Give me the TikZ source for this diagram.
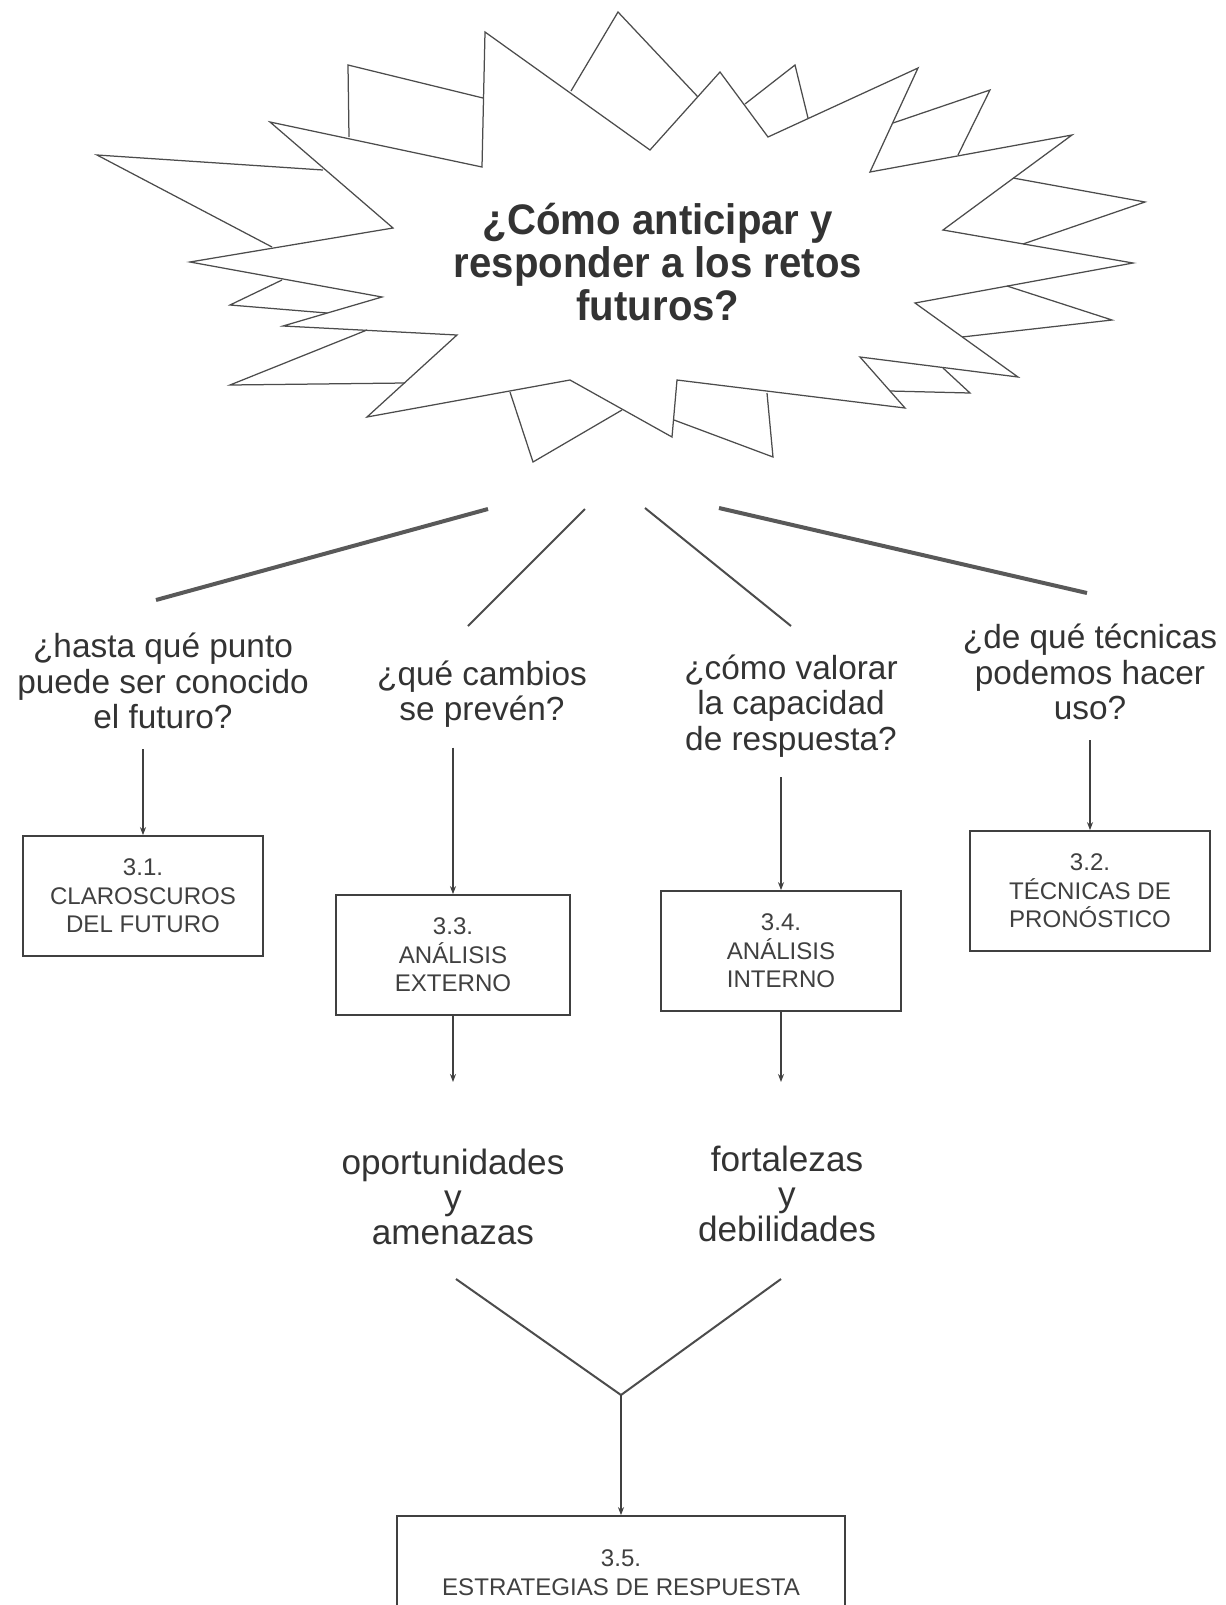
\documentclass[tikz,border=0pt]{standalone}
\usepackage{fontspec}
\setmainfont{Liberation Sans}
\newfontfamily\titlefont[FakeStretch=0.94]{Liberation Sans}
\usetikzlibrary{arrows.meta}

\tikzset{
  burst/.style={draw=black!70, line width=0.25mm, line join=miter},
  bar/.style={draw=black!70, line width=0.4mm},
  heavybar/.style={draw=black!65, line width=0.8mm},
  arr/.style={draw=black!75, line width=0.3mm, -{Stealth[length=1.6mm,width=1.2mm]}},
  qtext/.style={align=center, text=black!80, inner sep=0pt, outer sep=4mm, font=\fontsize{19}{20.3}\selectfont},
  outtext/.style={align=center, text=black!80, inner sep=0pt, font=\fontsize{20}{20}\selectfont},
  boxed/.style={draw=black!75, line width=0.35mm, align=center, text=black!75,
    minimum width=48mm, minimum height=24mm, font=\fontsize{13.7}{16.3}\selectfont},
}

\begin{document}
\begin{tikzpicture}[x=0.2mm, y=-0.2mm]
  \clip (0,0) rectangle (1225,1605);

  % the burst round the title
  \draw[burst] (270,122) -- (393,228) -- (190,262) -- (382,297) -- (283,326)
    -- (457,335) -- (367,417) -- (570,380) -- (672,437) -- (677,380)
    -- (905,408) -- (860,357) -- (1018,377) -- (915,303) -- (1133,263)
    -- (943,230) -- (1072,135) -- (870,172) -- (918,68) -- (768,137)
    -- (720,72) -- (650,150) -- (485,32) -- (482,167) -- cycle;
  % spikes lying over it
  \draw[burst] (349,137) -- (348,65) -- (483,98);
  \draw[burst] (323,170) -- (97,155) -- (272,247);
  \draw[burst] (282,280) -- (230,305) -- (327,313);
  \draw[burst] (367,330) -- (230,385) -- (405,383);
  \draw[burst] (510,392) -- (533,462) -- (622,410);
  \draw[burst] (674,420) -- (773,457) -- (767,393);
  \draw[burst] (571,91) -- (618,12) -- (698,97);
  \draw[burst] (745,104) -- (795,65) -- (808,118);
  \draw[burst] (893,123) -- (990,90) -- (958,155);
  \draw[burst] (1013,178) -- (1145,202) -- (1023,244);
  \draw[burst] (1007,286) -- (1112,320) -- (962,337);
  \draw[burst] (943,368) -- (970,393) -- (890,391);

  \node[align=center, text=black!80, font=\titlefont\fontsize{24.3}{24.5}\selectfont\bfseries] (title) at (658,262)
    {¿Cómo anticipar y\\responder a los retos\\futuros?};

  % questions
  \node[qtext] (q1) at (163,681) {¿hasta qué punto\\puede ser conocido\\el futuro?};
  \node[qtext] (q2) at (482,694) {¿qué cambios\\se prevén?};
  \node[qtext] (q3) at (791,706) {¿cómo valorar\\la capacidad\\de respuesta?};
  \node[qtext] (q4) at (1090,672) {¿de qué técnicas\\podemos hacer\\uso?};

  \coordinate (l1a) at (488,509);
  \coordinate (l1b) at (156,600);
  \coordinate (l2a) at (585,509);
  \coordinate (l2b) at (468,626);
  \coordinate (l3a) at (645,508);
  \coordinate (l3b) at (791,626);
  \coordinate (l4a) at (719,508);
  \coordinate (l4b) at (1087,593);
  \draw[heavybar] (l1a) -- (l1b);
  \draw[bar] (l2a) -- (l2b);
  \draw[bar] (l3a) -- (l3b);
  \draw[heavybar] (l4a) -- (l4b);

  % chapters
  \node[boxed] (b31) at (143,896) {3.1.\\CLAROSCUROS\\DEL FUTURO};
  \node[boxed, minimum width=46.8mm] (b33) at (453,955) {3.3.\\ANÁLISIS\\EXTERNO};
  \node[boxed] (b34) at (781,951) {3.4.\\ANÁLISIS\\INTERNO};
  \node[boxed] (b32) at (1090,891) {3.2.\\TÉCNICAS DE\\PRONÓSTICO};
  \node[boxed, minimum width=89.6mm, minimum height=22.8mm] (b35) at (621,1573)
    {3.5.\\ESTRATEGIAS DE RESPUESTA};

  \draw[arr] (q1.south -| b31.north) -- (b31.north);
  \draw[arr] (q2.south -| b33.north) -- (b33.north);
  \draw[arr] (q3.south -| b34.north) -- (b34.north);
  \draw[arr] (q4.south) -- (b32.north);

  % outcomes
  \node[outtext] (opp) at (453,1197) {oportunidades\\y\\amenazas};
  \node[outtext] (fort) at (787,1194) {fortalezas\\y\\debilidades};
  \coordinate (oppin) at (453,1082);
  \coordinate (fortin) at (781,1082);
  \draw[arr] (b33.south) -- (oppin);
  \draw[arr] (b34.south) -- (fortin);

  \coordinate (vl) at (456,1279);
  \coordinate (vr) at (781,1279);
  \coordinate (vjoin) at (621,1395);
  \draw[bar] (vl) -- (vjoin) -- (vr);
  \draw[arr] (vjoin) -- (b35.north);
\end{tikzpicture}
\end{document}
